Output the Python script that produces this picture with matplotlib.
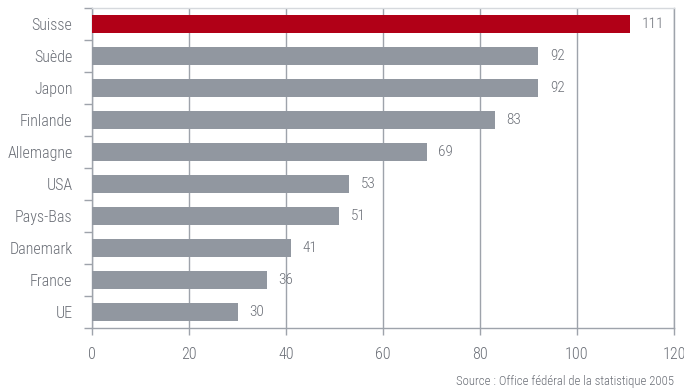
import matplotlib
matplotlib.use('Agg')
from matplotlib import pyplot as plt

# research spending index by country
countries = ['Suisse', 'Suède', 'Japon', 'Finlande', 'Allemagne', 'USA', 'Pays-Bas', 'Danemark', 'France', 'UE']
values = [111, 92, 92, 83, 69, 53, 51, 41, 36, 30]
highlight = 'Suisse'
source = 'Source : Office fédéral de la statistique 2005'

TEXT = '#6b6f77'
GRID = '#9ea3ab'
GRAY = '#9197a0'
RED = '#b10017'

plt.rcParams['font.family'] = ['Roboto Condensed', 'DejaVu Sans']
plt.rcParams['font.weight'] = 'light'

fig = plt.figure(figsize=(6.84, 3.89), dpi=100)
ax = fig.add_axes([92 / 684, 1 - 328 / 389, 582 / 684, 320 / 389])

ypos = list(range(len(countries)))
colors = [RED if c == highlight else GRAY for c in countries]
ax.barh(ypos, values, height=0.56, color=colors, zorder=3)
for y, v in zip(ypos, values):
    ax.text(v + 2.4, y, str(v), va='center', ha='left', fontsize=11, color=TEXT)

ax.set_xlim(0, 120)
ax.set_ylim(len(countries) - 0.5, -0.5)
ax.set_xticks(range(0, 121, 20))
ax.xaxis.grid(True, color=GRID, linewidth=1, zorder=0)

ax.set_yticks(ypos)
ax.set_yticklabels(countries)
ax.set_yticks([i + 0.5 for i in range(-1, len(countries))], minor=True)
ax.tick_params(axis='y', which='major', length=0, pad=14, labelsize=11.5, labelcolor=TEXT)
ax.tick_params(axis='y', which='minor', length=6, width=1, color=GRID, direction='out')
ax.tick_params(axis='x', length=5, width=1, color=GRID, pad=9, labelsize=11.5, labelcolor=TEXT)

for side in ['left', 'bottom', 'right', 'top']:
    ax.spines[side].set_color(GRID)
    ax.spines[side].set_linewidth(1)
ax.spines['top'].set_color('#d6d9dd')

fig.text(674 / 684, 1 - 381 / 389, source, ha='right', va='center', fontsize=9.2, color=TEXT)

fig.savefig('out.png', dpi=100)
